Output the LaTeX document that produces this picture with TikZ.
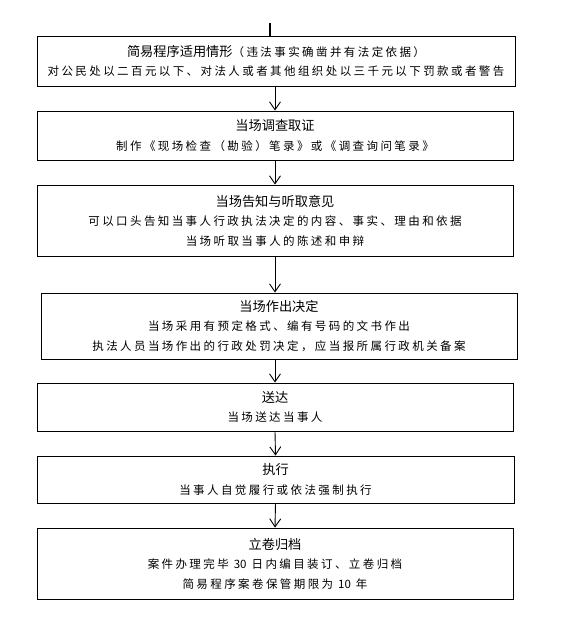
\documentclass[tikz,border=0pt]{standalone}
\usepackage{fontspec}
\newfontfamily\ttlfont{Noto Sans CJK SC}
\newfontfamily\bdyfont[LetterSpace=21]{Noto Sans CJK SC}
\usetikzlibrary{arrows.meta}
\newcommand\boxtitle[1]{{\ttlfont\fontsize{13.2}{19.5}\selectfont #1}}
\newcommand\tightnum[1]{{\ttlfont #1}}
\begin{document}
\begin{tikzpicture}[x=1pt,y=-1pt,
  box/.style={draw=black, line width=0.9pt, rectangle, inner sep=0pt, align=center,
    text=black, font=\bdyfont\fontsize{11.5}{19.5}\selectfont},
  arr/.style={draw=black, line width=0.9pt, -{Straight Barb[length=8pt,width=11pt,line width=0.9pt]}},
  lead/.style={draw=black, line width=1.3pt}]
\useasboundingbox[fill=white] (0,0) rectangle (560,618);

\node[box, minimum width=478pt, minimum height=50pt] (b1) at (276,61)
  {\boxtitle{简易程序适用情形}（违法事实确凿并有法定依据）\\
   对公民处以二百元以下、对法人或者其他组织处以三千元以下罚款或者警告};
\node[box, minimum width=476pt, minimum height=49pt] (b2) at (275,135.5)
  {\boxtitle{当场调查取证}\\
   制作《现场检查（勘验）笔录》或《调查询问笔录》};
\node[box, minimum width=476pt, minimum height=71pt] (b3) at (275,220.5)
  {\boxtitle{当场告知与听取意见}\\
   可以口头告知当事人行政执法决定的内容、事实、理由和依据\\
   当场听取当事人的陈述和申辩};
\node[box, minimum width=476pt, minimum height=66pt] (b4) at (279,326)
  {\boxtitle{当场作出决定}\\
   当场采用有预定格式、编有号码的文书作出\\
   执法人员当场作出的行政处罚决定，应当报所属行政机关备案};
\node[box, minimum width=476pt, minimum height=48pt] (b5) at (275,407)
  {\boxtitle{送达}\\
   当场送达当事人};
\node[box, minimum width=477pt, minimum height=47pt] (b6) at (275.5,479.5)
  {\boxtitle{执行}\\
   当事人自觉履行或依法强制执行};
\node[box, minimum width=476pt, minimum height=71pt] (b7) at (275,563.5)
  {\boxtitle{立卷归档}\\
   案件办理完毕 \tightnum{30} 日内编目装订、立卷归档\\
   简易程序案卷保管期限为 \tightnum{10} 年};

\coordinate (top) at (270,23);
\draw[lead] (top) -- (top |- b1.north);

\draw[arr] (b2.north |- b1.south) -- (b2.north);
\draw[arr] (b2.south) -- (b3.north);
\draw[arr] (b3.south) -- (b3.south |- b4.north);
\draw[arr] (b5.north |- b4.south) -- (b5.north);
\draw[arr] (b5.south) -- (b6.north);
\draw[arr] (b6.south) -- (b7.north);
\end{tikzpicture}
\end{document}
